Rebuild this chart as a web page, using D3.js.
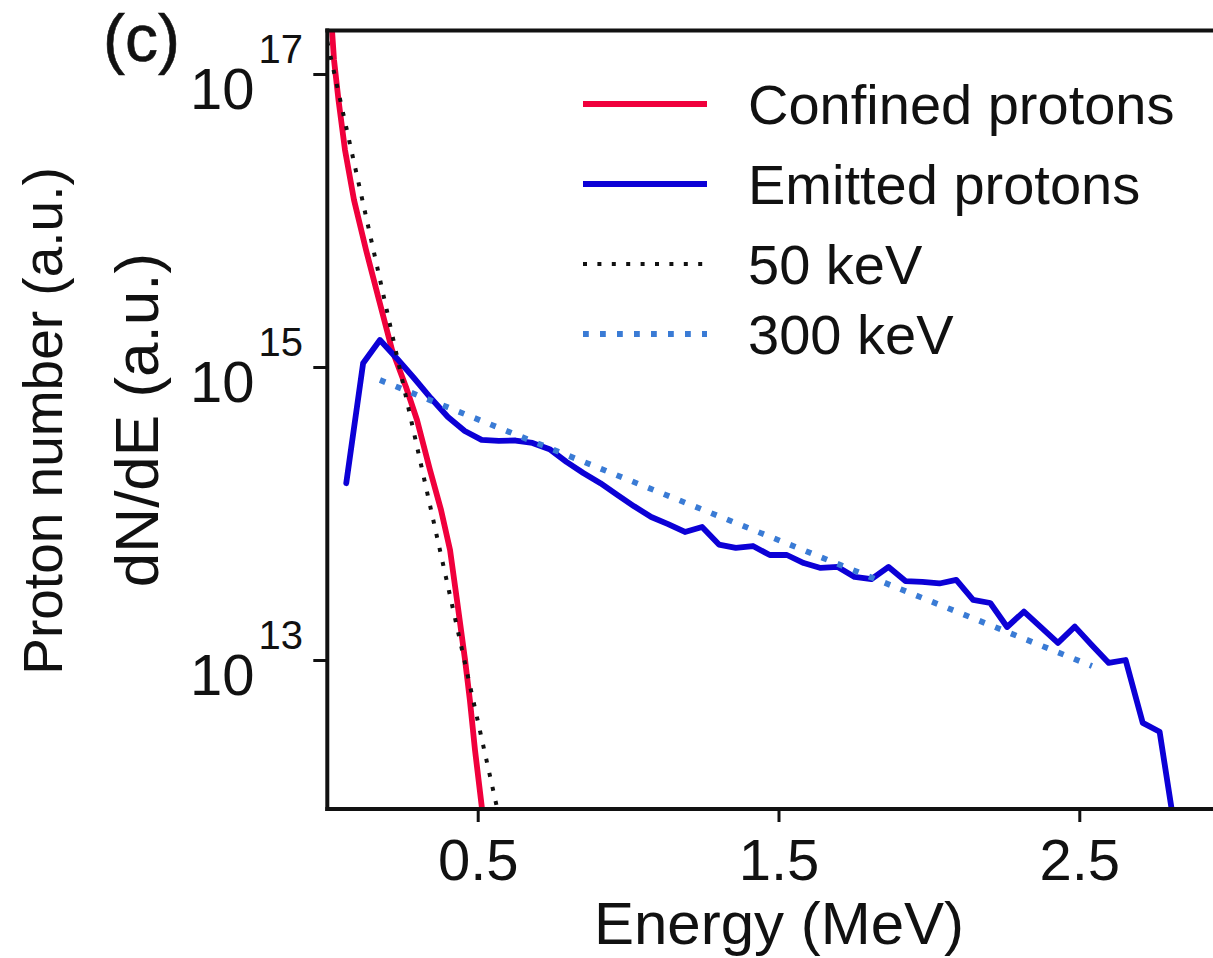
<!DOCTYPE html>
<html>
<head>
<meta charset="utf-8">
<script src="https://cdn.jsdelivr.net/npm/d3@7"></script>
<style>
  html, body { margin: 0; padding: 0; background: #ffffff; }
  svg { display: block; }
  text { font-family: "Liberation Sans", Arial, Helvetica, sans-serif; fill: #111; }
</style>
</head>
<body>
<svg id="chart" width="1213" height="958"></svg>
<script>
// ---------------- data ----------------
const confinedE = [0.0123, 0.0156, 0.0223, 0.0372, 0.0588, 0.0888, 0.1287, 0.1719, 0.2151, 0.2616, 0.2982, 0.3414, 0.378, 0.408, 0.431, 0.458, 0.474, 0.491, 0.514, 0.521];
const confinedN = [2.7e17, 2.0e17, 1.25e17, 6.65e16, 3.03e16, 1.38e16, 6.3e15, 2.87e15, 1.31e15, 7.3e14, 4.35e14, 1.98e14, 1.06e14, 5.64e13, 2.57e13, 1.0e13, 5.33e12, 2.43e12, 9.8e11, 7.2e11];

const emittedE = [0.063, 0.119, 0.175, 0.232, 0.288, 0.344, 0.401, 0.457, 0.513, 0.570,
                  0.626, 0.682, 0.739, 0.795, 0.851, 0.908, 0.964, 1.020, 1.077, 1.133,
                  1.189, 1.246, 1.302, 1.358, 1.415, 1.471, 1.528, 1.584, 1.640, 1.697,
                  1.753, 1.809, 1.866, 1.922, 1.978, 2.035, 2.091, 2.147, 2.204, 2.260,
                  2.316, 2.373, 2.429, 2.485, 2.542, 2.598, 2.654, 2.711, 2.767, 2.823];
const emittedN = [1.61e14, 1.06e15, 1.53e15, 1.14e15, 8.41e14, 6.14e14, 4.56e14, 3.66e14, 3.18e14, 3.13e14,
                  3.15e14, 3.03e14, 2.75e14, 2.25e14, 1.89e14, 1.61e14, 1.34e14, 1.12e14, 9.46e13, 8.47e13,
                  7.48e13, 8.09e13, 6.14e13, 5.82e13, 6.00e13, 5.21e13, 5.21e13, 4.59e13, 4.25e13, 4.32e13,
                  3.69e13, 3.57e13, 4.32e13, 3.46e13, 3.42e13, 3.33e13, 3.52e13, 2.57e13, 2.45e13, 1.68e13,
                  2.14e13, 1.67e13, 1.31e13, 1.69e13, 1.26e13, 9.55e12, 1.00e13, 3.72e12, 3.24e12, 5.9e11];

const fit50E = [0.0, 0.575];
const fit50N = [1.66e17, 7.8e11];
const fit300E = [0.175, 2.542];
const fit300N = [8.15e14, 9.1e12];

const xTicks = [0.5, 1.5, 2.5];
const yTicks = [1e13, 1e15, 1e17];
const yTickExp = ["13", "15", "17"];

const legendLabels = ["Confined protons", "Emitted protons", "50 keV", "300 keV"];

// ---------------- layout ----------------
const svg = d3.select("#chart");
const pL = 327.3, pR = 1229.7, pT = 30.5, pB = 809;

const x = d3.scaleLinear().domain([0, 3]).range([pL, pR]);
const y = d3.scaleLog().domain([Math.pow(10, 11.983), Math.pow(10, 17.297)]).range([pB, pT]);

svg.append("defs").append("clipPath").attr("id", "plotclip")
  .append("rect").attr("x", pL).attr("y", pT).attr("width", pR - pL).attr("height", pB - pT);

const series = [
  { E: confinedE, N: confinedN, color: "#f0003c", width: 5.8, dash: null },
  { E: emittedE, N: emittedN, color: "#0c00d6", width: 5.8, dash: null },
  { E: fit50E, N: fit50N, color: "#111111", width: 4, dash: "4,10.4" },
  { E: fit300E, N: fit300N, color: "#3a7bd5", width: 5.8, dash: "5.8,11.2" }
];

const line = d3.line().x(d => x(d[0])).y(d => y(d[1]));

const plot = svg.append("g").attr("clip-path", "url(#plotclip)");
series.forEach(s => {
  const pts = s.E.map((e, j) => [e, s.N[j]]);
  plot.append("path")
    .attr("d", line(pts))
    .attr("fill", "none")
    .attr("stroke", s.color)
    .attr("stroke-width", s.width)
    .attr("stroke-linejoin", "round")
    .attr("stroke-linecap", s.dash ? "butt" : "round")
    .attr("stroke-dasharray", s.dash);
});

// ---------------- axes ----------------
const xAxis = d3.axisBottom(x).tickValues(xTicks).tickSize(13).tickPadding(10)
  .tickFormat(d3.format(".1f"));
const gx = svg.append("g").attr("transform", `translate(0,${pB})`).call(xAxis);
gx.select(".domain").remove();
gx.selectAll(".tick line").attr("stroke", "#111").attr("stroke-width", 3);
gx.selectAll(".tick text").attr("font-size", 58).attr("fill", "#111")
  .attr("dy", null).attr("y", 71);

const yAxis = d3.axisLeft(y).tickValues(yTicks).tickSize(14).tickFormat("");
const gy = svg.append("g").attr("transform", `translate(${pL},0)`).call(yAxis);
gy.select(".domain").remove();
gy.selectAll(".tick line").attr("stroke", "#111").attr("stroke-width", 3);

// y tick labels 10^n
yTicks.forEach((t, i) => {
  const tx = svg.append("text")
    .attr("x", 303).attr("y", y(t) + 35)
    .attr("text-anchor", "end")
    .attr("font-size", 58);
  tx.append("tspan").text("10");
  tx.append("tspan").attr("font-size", 40).attr("dy", -46).attr("dx", 4).text(yTickExp[i]);
});

// spines
svg.append("line").attr("x1", pL).attr("x2", pL).attr("y1", pT - 2).attr("y2", pB + 2)
  .attr("stroke", "#111").attr("stroke-width", 4);
svg.append("line").attr("x1", pL - 2).attr("x2", 1213).attr("y1", pB).attr("y2", pB)
  .attr("stroke", "#111").attr("stroke-width", 4);
svg.append("line").attr("x1", pL - 2).attr("x2", 1213).attr("y1", pT).attr("y2", pT)
  .attr("stroke", "#111").attr("stroke-width", 4);

// ---------------- labels ----------------
svg.append("text").attr("x", 779).attr("y", 944).attr("text-anchor", "middle")
  .attr("font-size", 60).text("Energy (MeV)");

svg.append("text").attr("transform", "translate(62,421) rotate(-90)")
  .attr("text-anchor", "middle").attr("font-size", 55).text("Proton number (a.u.)");
svg.append("text").attr("transform", "translate(158,420) rotate(-90)")
  .attr("text-anchor", "middle").attr("font-size", 62).text("dN/dE (a.u.)");

svg.append("text").attr("x", 103).attr("y", 61).attr("font-size", 66)
  .attr("fill", "#1a1a1a").attr("stroke", "#1a1a1a").attr("stroke-width", 0.6).text("(c)");

// ---------------- legend ----------------
const legY = [104, 184, 264, 334];
const legend = svg.append("g");
series.forEach((s, i) => {
  legend.append("line")
    .attr("x1", 583).attr("x2", 707).attr("y1", legY[i]).attr("y2", legY[i])
    .attr("stroke", s.color).attr("stroke-width", s.width)
    .attr("stroke-dasharray", s.dash)
    .attr("stroke-linecap", "butt");
  legend.append("text").attr("x", 748).attr("y", legY[i] + 20)
    .attr("font-size", 56).text(legendLabels[i]);
});
</script>
</body>
</html>
